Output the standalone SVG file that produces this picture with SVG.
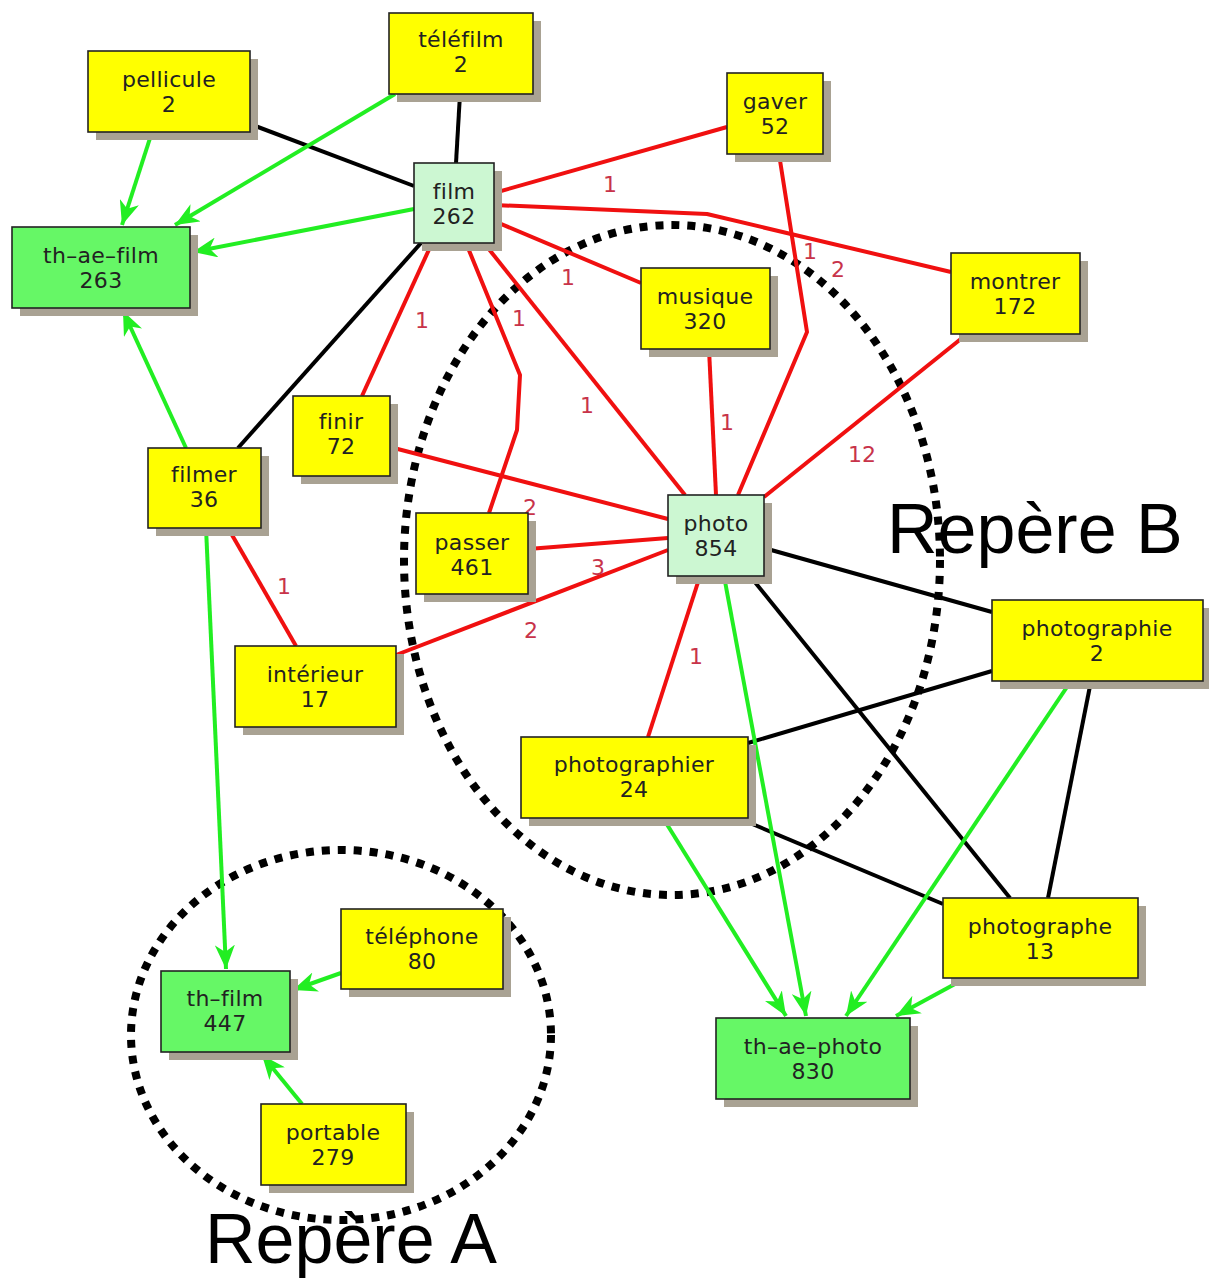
<svg xmlns="http://www.w3.org/2000/svg" width="1209" height="1282" viewBox="0 0 1209 1282">
<style>
.sh{fill:#a9a293}
.box{stroke:#222;stroke-width:1.6}
.y{fill:#ffff00}
.lg{fill:#ccf7d2}
.g{fill:#66f766}
.t{font-family:"DejaVu Sans",sans-serif;font-size:22px;fill:#222;text-anchor:middle;letter-spacing:0.3px}
.el{font-family:"DejaVu Sans",sans-serif;font-size:22px;fill:#c8334a;text-anchor:middle}
.k{stroke:#000;stroke-width:4;fill:none}
.r{stroke:#f01010;stroke-width:4;fill:none;stroke-linejoin:round}
.gr{stroke:#22ee22;stroke-width:4;fill:none;marker-end:url(#ah)}
.dot{fill:none;stroke:#000;stroke-width:8;stroke-dasharray:8 8}
.big{font-family:"Liberation Sans",Arial,sans-serif;font-size:70px;fill:#000}
</style>
<defs>
<marker id="ah" markerUnits="userSpaceOnUse" markerWidth="26" markerHeight="20" refX="24" refY="10" orient="auto">
<path d="M0,0 L24,10 L0,20 L7,10 z" fill="#22ee22"/>
</marker>
</defs>
<rect width="1209" height="1282" fill="#fff"/>
<g id="regions">
<ellipse class="dot" cx="672" cy="560" rx="268" ry="335"/>
<ellipse class="dot" cx="341" cy="1035" rx="210" ry="185"/>
</g>
<g id="connectors">
<line class="k" x1="250" y1="124" x2="414" y2="186"/>
<line class="k" x1="460" y1="94" x2="456" y2="163"/>
<line class="k" x1="421" y1="243" x2="238" y2="448"/>
<line class="k" x1="764" y1="548" x2="992" y2="612"/>
<line class="k" x1="750" y1="576" x2="1010" y2="898"/>
<line class="k" x1="992" y1="671" x2="748" y2="743"/>
<line class="k" x1="1091" y1="681" x2="1048" y2="898"/>
<line class="k" x1="738" y1="818" x2="943" y2="904"/>
<polyline class="r" points="494,193 727,127"/>
<polyline class="r" points="494,205 707,214 951,272"/>
<polyline class="r" points="494,221 641,283"/>
<polyline class="r" points="484,243 685,495"/>
<polyline class="r" points="466,243 520,375 517,430 489,513"/>
<polyline class="r" points="432,243 362,396"/>
<polyline class="r" points="779,154 807,332 738,495"/>
<polyline class="r" points="709,349 716,495"/>
<polyline class="r" points="967,334 764,497"/>
<polyline class="r" points="390,447 668,519"/>
<polyline class="r" points="528,549 668,538"/>
<polyline class="r" points="396,655 668,550"/>
<polyline class="r" points="228,528 296,646"/>
<polyline class="r" points="700,576 648,737"/>
<line class="gr" x1="152" y1="132" x2="122" y2="225"/>
<line class="gr" x1="395" y1="94" x2="175" y2="225"/>
<line class="gr" x1="414" y1="209" x2="193" y2="252"/>
<line class="gr" x1="186" y1="448" x2="123" y2="311"/>
<line class="gr" x1="206" y1="528" x2="226" y2="969"/>
<line class="gr" x1="341" y1="973" x2="293" y2="990"/>
<line class="gr" x1="302" y1="1104" x2="262" y2="1055"/>
<line class="gr" x1="663" y1="818" x2="786" y2="1016"/>
<line class="gr" x1="724" y1="576" x2="806" y2="1016"/>
<line class="gr" x1="1071" y1="681" x2="846" y2="1016"/>
<line class="gr" x1="966" y1="978" x2="896" y2="1016"/>
<text class="el" x="610" y="192">1</text>
<text class="el" x="838" y="277">2</text>
<text class="el" x="810" y="259">1</text>
<text class="el" x="568" y="285">1</text>
<text class="el" x="587" y="413">1</text>
<text class="el" x="519" y="326">1</text>
<text class="el" x="422" y="328">1</text>
<text class="el" x="727" y="430">1</text>
<text class="el" x="862" y="462">12</text>
<text class="el" x="530" y="515">2</text>
<text class="el" x="598" y="575">3</text>
<text class="el" x="531" y="638">2</text>
<text class="el" x="284" y="594">1</text>
<text class="el" x="696" y="664">1</text>
</g>
<g id="pellicule"><rect class="sh" x="96" y="59" width="162" height="81"/><rect class="box y" x="88" y="51" width="162" height="81"/><text class="t" x="169" y="87">pellicule</text><text class="t" x="169" y="112">2</text></g>
<g id="telefilm"><rect class="sh" x="397" y="21" width="144" height="81"/><rect class="box y" x="389" y="13" width="144" height="81"/><text class="t" x="461" y="47">téléfilm</text><text class="t" x="461" y="72">2</text></g>
<g id="film"><rect class="sh" x="422" y="171" width="80" height="80"/><rect class="box lg" x="414" y="163" width="80" height="80"/><text class="t" x="454" y="199">film</text><text class="t" x="454" y="224">262</text></g>
<g id="th-ae-film"><rect class="sh" x="20" y="235" width="178" height="81"/><rect class="box g" x="12" y="227" width="178" height="81"/><text class="t" x="101" y="263">th–ae–film</text><text class="t" x="101" y="288">263</text></g>
<g id="gaver"><rect class="sh" x="735" y="81" width="96" height="81"/><rect class="box y" x="727" y="73" width="96" height="81"/><text class="t" x="775" y="109">gaver</text><text class="t" x="775" y="134">52</text></g>
<g id="musique"><rect class="sh" x="649" y="276" width="129" height="81"/><rect class="box y" x="641" y="268" width="129" height="81"/><text class="t" x="705" y="304">musique</text><text class="t" x="705" y="329">320</text></g>
<g id="montrer"><rect class="sh" x="959" y="261" width="129" height="81"/><rect class="box y" x="951" y="253" width="129" height="81"/><text class="t" x="1015" y="289">montrer</text><text class="t" x="1015" y="314">172</text></g>
<g id="finir"><rect class="sh" x="301" y="404" width="97" height="80"/><rect class="box y" x="293" y="396" width="97" height="80"/><text class="t" x="341" y="429">finir</text><text class="t" x="341" y="454">72</text></g>
<g id="filmer"><rect class="sh" x="156" y="456" width="113" height="80"/><rect class="box y" x="148" y="448" width="113" height="80"/><text class="t" x="204" y="482">filmer</text><text class="t" x="204" y="507">36</text></g>
<g id="passer"><rect class="sh" x="424" y="521" width="112" height="81"/><rect class="box y" x="416" y="513" width="112" height="81"/><text class="t" x="472" y="550">passer</text><text class="t" x="472" y="575">461</text></g>
<g id="photo"><rect class="sh" x="676" y="503" width="96" height="81"/><rect class="box lg" x="668" y="495" width="96" height="81"/><text class="t" x="716" y="531">photo</text><text class="t" x="716" y="556">854</text></g>
<g id="photographie"><rect class="sh" x="1000" y="608" width="211" height="81"/><rect class="box y" x="992" y="600" width="211" height="81"/><text class="t" x="1097" y="636">photographie</text><text class="t" x="1097" y="661">2</text></g>
<g id="interieur"><rect class="sh" x="243" y="654" width="161" height="81"/><rect class="box y" x="235" y="646" width="161" height="81"/><text class="t" x="315" y="682">intérieur</text><text class="t" x="315" y="707">17</text></g>
<g id="photographier"><rect class="sh" x="529" y="745" width="227" height="81"/><rect class="box y" x="521" y="737" width="227" height="81"/><text class="t" x="634" y="772">photographier</text><text class="t" x="634" y="797">24</text></g>
<g id="photographe"><rect class="sh" x="951" y="906" width="195" height="80"/><rect class="box y" x="943" y="898" width="195" height="80"/><text class="t" x="1040" y="934">photographe</text><text class="t" x="1040" y="959">13</text></g>
<g id="th-ae-photo"><rect class="sh" x="724" y="1026" width="194" height="81"/><rect class="box g" x="716" y="1018" width="194" height="81"/><text class="t" x="813" y="1054">th–ae–photo</text><text class="t" x="813" y="1079">830</text></g>
<g id="th-film"><rect class="sh" x="169" y="979" width="129" height="81"/><rect class="box g" x="161" y="971" width="129" height="81"/><text class="t" x="225" y="1006">th–film</text><text class="t" x="225" y="1031">447</text></g>
<g id="telephone"><rect class="sh" x="349" y="917" width="162" height="80"/><rect class="box y" x="341" y="909" width="162" height="80"/><text class="t" x="422" y="944">téléphone</text><text class="t" x="422" y="969">80</text></g>
<g id="portable"><rect class="sh" x="269" y="1112" width="145" height="81"/><rect class="box y" x="261" y="1104" width="145" height="81"/><text class="t" x="333" y="1140">portable</text><text class="t" x="333" y="1165">279</text></g>
<g id="labels">
<text class="big" x="887" y="553">Repère B</text>
<text class="big" x="205" y="1263">Repère A</text>
</g>
</svg>
